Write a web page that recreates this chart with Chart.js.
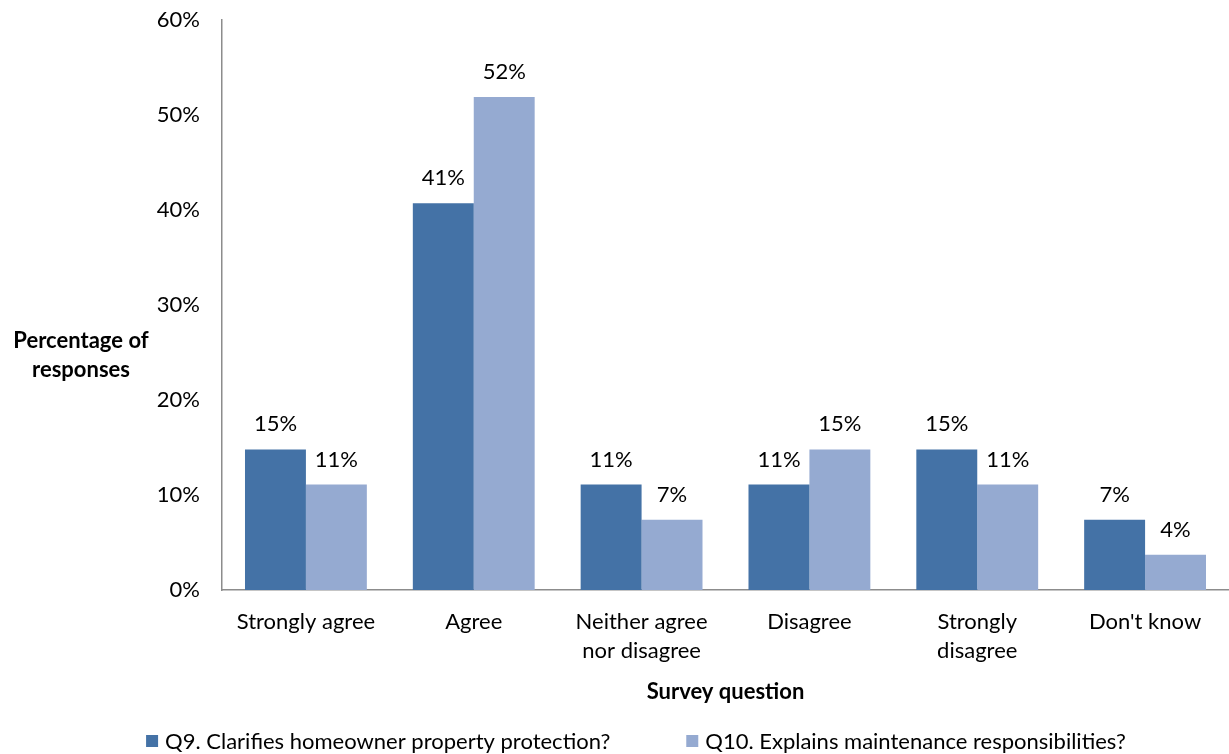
<!DOCTYPE html>
<html><head><meta charset="utf-8">
<script src="https://cdn.jsdelivr.net/npm/chart.js@4"></script>
<style>html,body{margin:0;padding:0;background:#fff}#wrap{width:1229px;height:754px}</style>
</head><body><div id="wrap"><canvas id="c" width="1229" height="754"></canvas></div>
<script>
const categories = [["Strongly agree"], ["Agree"], ["Neither agree", "nor disagree"], ["Disagree"], ["Strongly", "disagree"], ["Don't know"]];
const q9Values = [14.8, 40.7, 11.1, 11.1, 14.8, 7.4];
const q10Values = [11.1, 51.9, 7.4, 14.8, 11.1, 3.7];
const seriesNames = ["Q9. Clarifies homeowner property protection?", "Q10. Explains maintenance responsibilities?"];
const seriesColors = ['#4472A6', '#95AAD1'];
const yTicks = [0, 10, 20, 30, 40, 50, 60];
const yTitle = ["Percentage of", "responses"];
const xTitle = "Survey question";

const FONT = "Lato, 'Open Sans', sans-serif";
const dataLabels = {
  id: 'dataLabels',
  afterDatasetsDraw(chart) {
    const ctx = chart.ctx;
    ctx.save();
    ctx.font = "22px " + FONT;
    ctx.fillStyle = "#000";
    ctx.textAlign = "center";
    ctx.textBaseline = "middle";
    chart.data.datasets.forEach((ds, i) => {
      chart.getDatasetMeta(i).data.forEach((bar, j) => {
        ctx.fillText(Math.round(ds.data[j]) + "%", bar.x, bar.y - 25);
      });
    });
    ctx.restore();
  }
};
const yTitlePlugin = {
  id: 'yTitlePlugin',
  afterDraw(chart) {
    const ctx = chart.ctx;
    ctx.save();
    ctx.font = "bold 22px " + FONT;
    ctx.fillStyle = "#000";
    ctx.textAlign = "center";
    ctx.textBaseline = "middle";
    ctx.fillText(yTitle[0], 81, 341);
    ctx.fillText(yTitle[1], 81, 370);
    ctx.restore();
  }
};
const bottomLegend = {
  id: 'bottomLegend',
  afterDraw(chart) {
    const ctx = chart.ctx;
    ctx.save();
    ctx.font = "22px " + FONT;
    ctx.fillStyle = "#000";
    ctx.textBaseline = "middle";
    const box = 12, gapText = 7, gapItem = 76, y = 741;
    const widths = chart.data.datasets.map(ds => box + gapText + ctx.measureText(ds.label).width);
    const total = widths.reduce((a, b) => a + b, 0) + gapItem * (widths.length - 1);
    let x = 636 - total / 2;
    chart.data.datasets.forEach((ds, i) => {
      ctx.fillStyle = ds.backgroundColor;
      ctx.fillRect(x, y - box / 2, box, box);
      ctx.fillStyle = "#000";
      ctx.fillText(ds.label, x + box + gapText, y + 1);
      x += widths[i] + gapItem;
    });
    ctx.restore();
  }
};

new Chart(document.getElementById('c'), {
  type: 'bar',
  data: {
    labels: categories,
    datasets: [
      { label: seriesNames[0], data: q9Values, backgroundColor: seriesColors[0] },
      { label: seriesNames[1], data: q10Values, backgroundColor: seriesColors[1] }
    ]
  },
  plugins: [dataLabels, yTitlePlugin, bottomLegend],
  options: {
    responsive: false,
    animation: false,
    layout: { padding: { top: 20, right: 0, left: 0, bottom: 0 } },
    datasets: { bar: { categoryPercentage: 0.726, barPercentage: 1.0 } },
    plugins: {
      tooltip: { enabled: false },
      legend: { display: false }
    },
    scales: {
      x: {
        afterFit(s) { s.height = 164; s.paddingLeft = 0; s.paddingRight = 0; },
        grid: { display: false, drawTicks: false },
        border: { color: '#8C8C8C', width: 1.5 },
        ticks: { font: { size: 22, family: FONT, lineHeight: 1.32 }, color: '#000', padding: 17, maxRotation: 0 },
        title: { display: true, text: xTitle, font: { size: 22, weight: 'bold', family: FONT }, color: '#000', padding: { top: 14, bottom: 49 } }
      },
      y: {
        min: 0, max: 60,
        afterBuildTicks(s) { s.ticks = yTicks.map(v => ({ value: v })); },
        afterFit(s) { s.width = 222; s.paddingTop = 0; s.paddingBottom = 0; },
        grid: { display: false, drawTicks: false },
        border: { color: '#8C8C8C', width: 1.5 },
        ticks: { font: { size: 22, family: FONT }, color: '#000', padding: 22, callback: v => v + '%' }
      }
    }
  }
});
</script></body></html>
